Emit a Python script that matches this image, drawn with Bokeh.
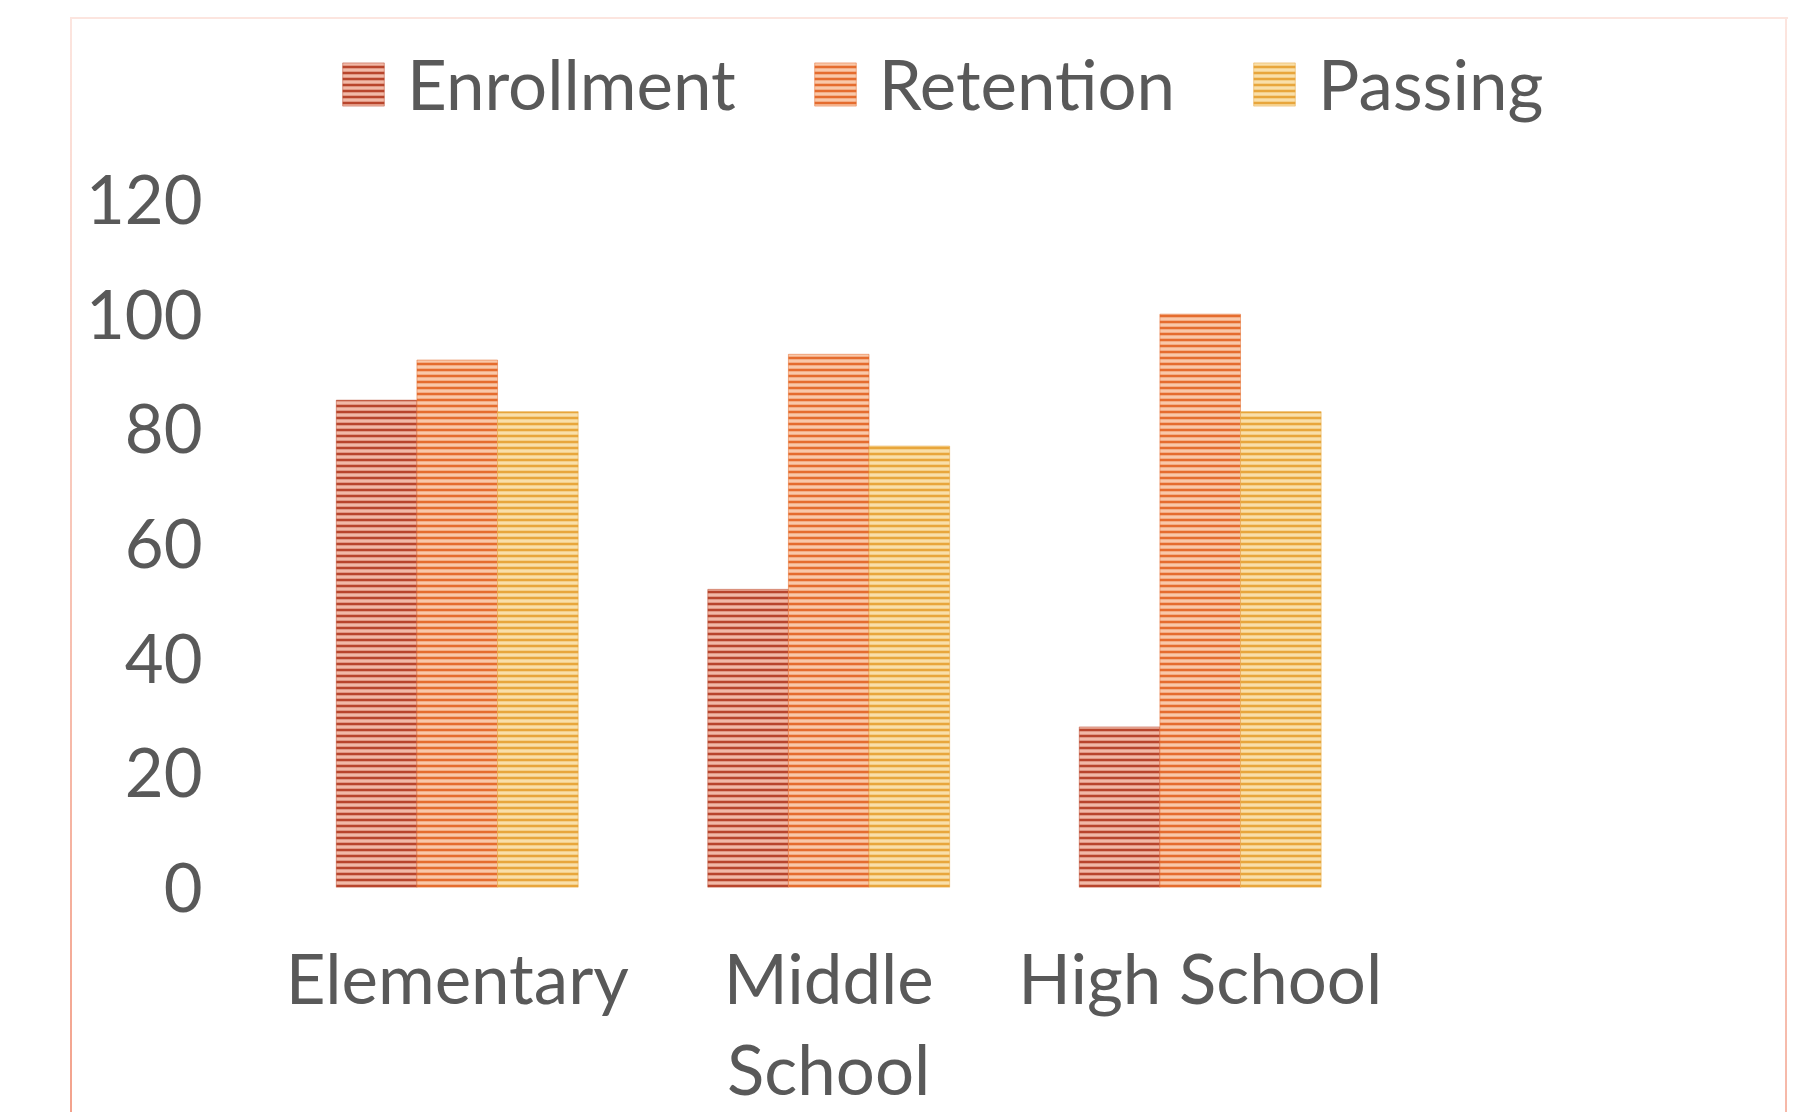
from bokeh.plotting import figure
from bokeh.models import Range1d, FixedTicker, Legend, LegendItem
from bokeh.transform import dodge
from bokeh.embed import file_html
from bokeh.resources import INLINE

categories = ["Elementary", "Middle School", "High School"]
category_labels = ["Elementary", "Middle\nSchool", "High School"]
series = ["Enrollment", "Retention", "Passing"]
enrollment = [85, 52, 28]
retention = [92, 93, 100]
passing = [83, 77, 83]
y_ticks = [0, 20, 40, 60, 80, 100, 120]

FONT = "Lato"
TEXT = "#595959"

BORDER_TOP = "#FCE5DF"
border_css = (
    f"linear-gradient({BORDER_TOP},{BORDER_TOP}) 70px 17px / 1718px 2px no-repeat, "
    f"linear-gradient(to bottom,{BORDER_TOP},#F3A28C) 70px 17px / 2px 1100px no-repeat, "
    f"linear-gradient(to bottom,{BORDER_TOP},#F6B8A8) 1785px 17px / 2px 1100px no-repeat, "
    "#ffffff"
)

# category slots: one unit per category, centred at i + 0.5
x_pos = [i + 0.5 for i in range(len(categories))]

p = figure(width=1792, height=1112, x_range=Range1d(0, 4.089),
           y_range=Range1d(0, 150), output_backend="svg", toolbar_location=None,
           min_border_left=271, min_border_right=2, min_border_top=27,
           min_border_bottom=225, styles={"background": border_css})
p.outline_line_color = None
p.background_fill_color = None
p.border_fill_color = None
p.xgrid.visible = False
p.ygrid.visible = False

data = dict(x=x_pos, Enrollment=enrollment, Retention=retention, Passing=passing)

styles = {
    "Enrollment": ("#B8452C", "#F1B9A7"),
    "Retention": ("#E56C2E", "#F9C8A9"),
    "Passing": ("#E8A63C", "#F9DFAA"),
}
w = 0.217
offsets = [-w, 0, w]
renderers = []
for s, off in zip(series, offsets):
    dark, light = styles[s]
    r = p.vbar(x=dodge("x", off), top=s, width=w, source=data,
               fill_color=light, line_color=dark, line_width=1, line_alpha=0.5,
               hatch_pattern="horizontal_line", hatch_color=dark,
               hatch_scale=6, hatch_weight=2.6)
    renderers.append(r)

p.xaxis.ticker = FixedTicker(ticks=x_pos)
p.xaxis.major_label_overrides = {x: lab for x, lab in zip(x_pos, category_labels)}
p.yaxis.ticker = FixedTicker(ticks=y_ticks)
for ax in (p.xaxis[0], p.yaxis[0]):
    ax.axis_line_color = None
    ax.major_tick_line_color = None
    ax.minor_tick_line_color = None
    ax.major_tick_out = 0
    ax.major_tick_in = 0
    ax.major_label_text_font = FONT
    ax.major_label_text_font_size = "69px"
    ax.major_label_text_color = TEXT
p.yaxis.major_label_text_font_size = "67px"
p.yaxis.major_label_standoff = 69
p.xaxis.major_label_standoff = 48
p.xaxis.major_label_text_line_height = 1.1
p.xaxis.major_label_text_align = "center"

legend = Legend(items=[LegendItem(label=s, renderers=[r]) for s, r in zip(series, renderers)],
                orientation="horizontal", location=(66, 762),
                label_text_font=FONT, label_text_font_size="69px", label_text_color=TEXT,
                glyph_width=52, glyph_height=54, label_height=54, label_standoff=18,
                spacing=73, padding=0, margin=0, border_line_color=None,
                background_fill_alpha=0)
p.add_layout(legend, "center")

open("out.html", "w").write(file_html(p, INLINE))
